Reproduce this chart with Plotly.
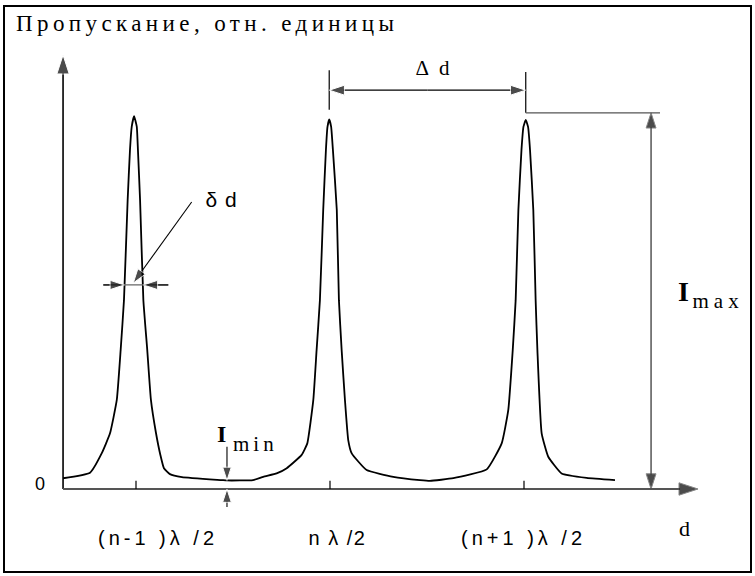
import json
import plotly.graph_objects as go

# ---------------- data ----------------
# d in units of lambda/2 (peaks at n-1, n, n+1 -> 1, 2, 3); transmission relative to peak
d_values = [0.624, 0.763, 0.823, 0.866, 0.901, 0.921, 0.938, 0.957, 0.969, 0.978, 0.990,
            1.004, 1.010, 1.021, 1.038, 1.058, 1.077, 1.103, 1.126, 1.144, 1.175, 1.237,
            1.442, 1.469, 1.603, 1.656, 1.725, 1.777, 1.854, 1.883, 1.914, 1.931, 1.948,
            1.965, 1.979, 1.987, 1.996, 2.006, 2.015, 2.035, 2.046, 2.060, 2.077, 2.094,
            2.112, 2.189, 2.326, 2.464, 2.515, 2.636, 2.808, 2.885, 2.919, 2.942, 2.957,
            2.971, 2.987, 2.997, 3.009, 3.021, 3.031, 3.048, 3.060, 3.069, 3.091, 3.125,
            3.194, 3.323, 3.469]
transmission = [0.029, 0.044, 0.096, 0.150, 0.240, 0.375, 0.509, 0.779, 0.914, 0.977, 1.005,
                0.977, 0.914, 0.779, 0.509, 0.375, 0.240, 0.151, 0.091, 0.056, 0.040, 0.032,
                0.024, 0.023, 0.024, 0.033, 0.042, 0.056, 0.092, 0.123, 0.240, 0.375, 0.509,
                0.752, 0.914, 0.976, 0.996, 0.976, 0.914, 0.752, 0.509, 0.375, 0.240, 0.132,
                0.096, 0.051, 0.033, 0.024, 0.022, 0.029, 0.053, 0.123, 0.213, 0.375, 0.509,
                0.752, 0.914, 0.976, 0.995, 0.976, 0.914, 0.752, 0.509, 0.375, 0.150, 0.087,
                0.042, 0.030, 0.024]

tick_positions = [1, 2, 3]
tick_labels = ["(n-1 )λ /2", "n λ /2", "(n+1 )λ /2"]

peak_positions = [0.990, 1.996, 3.009]
i_max_level = 1.014
i_min_position = 1.469
i_min_value = 0.023
half_width_level = 0.550
half_width_left = 0.940
half_width_right = 1.038

# ---------------- figure ----------------
X_RANGE = [0.2990, 4.1907]
Y_RANGE = [-0.2345, 1.3181]
AX_LEFT = 0.624
AX_RIGHT = 3.897
AX_TOP = 1.170

fig = go.Figure()


def line(xs, ys, color="black", width=1.5):
    fig.add_trace(go.Scatter(x=xs, y=ys, mode="lines", hoverinfo="skip",
                             line=dict(color=color, width=width), showlegend=False))


def arrow(x0, y0, x1, y1, color="black", width=1.2, size=11):
    fig.add_trace(go.Scatter(x=[x0, x1], y=[y0, y1], mode="lines+markers", hoverinfo="skip",
                             line=dict(color=color, width=width),
                             marker=dict(symbol="arrow", size=[0, size], color="black",
                                         angleref="previous"),
                             showlegend=False))


# axes
arrow(AX_LEFT, 0, AX_LEFT, AX_TOP, color="black", width=1.6, size=20)
arrow(AX_LEFT, 0, AX_RIGHT, 0, color="#555555", width=2, size=20)
for t in tick_positions:
    line([t, t], [0, 0.022], color="black", width=1.2)

# curve
fig.add_trace(go.Scatter(x=d_values, y=transmission, mode="lines", hoverinfo="skip",
                         line=dict(color="black", width=1.8, shape="spline", smoothing=0.4),
                         showlegend=False))

# delta d (half width)
line([0.8314, 1.1665], [half_width_level, half_width_level], color="#666666", width=1.2)
arrow(0.8314, half_width_level, half_width_left, half_width_level, width=1.2, size=15)
arrow(1.1665, half_width_level, half_width_right, half_width_level, width=1.2, size=15)
arrow(1.287, 0.7736, 0.986, 0.5553, width=1.1, size=15)

# Delta d (period)
line([peak_positions[1], peak_positions[1]], [1.022, 1.129], width=1.2)
line([peak_positions[2], peak_positions[2]], [i_max_level, 1.124], width=1.2)
mid = (peak_positions[1] + peak_positions[2]) / 2
arrow(mid, 1.075, peak_positions[1], 1.075, width=1.2, size=16)
arrow(mid, 1.075, peak_positions[2], 1.075, width=1.2, size=16)
line([peak_positions[2], 3.701], [i_max_level, i_max_level], color="#555555", width=1.2)

# I max
arrow(3.655, i_max_level / 2, 3.655, i_max_level, color="#555555", width=1.5, size=16)
arrow(3.655, i_max_level / 2, 3.655, 0, color="#555555", width=1.5, size=16)

# I min
arrow(i_min_position, 0.114, i_min_position, i_min_value, width=1.1, size=14)
arrow(i_min_position, -0.0485, i_min_position, 0, width=1.1, size=14)

SERIF = "Liberation Serif"
SANS = "Liberation Sans"


def px(x):
    return x / 755.0


def py(y):
    return 1 - y / 576.0


ann = []


def text(t, x, y, font, size, xanchor="center"):
    ann.append(dict(text=t, x=px(x), y=py(y), xref="paper", yref="paper",
                    xanchor=xanchor, yanchor="middle", showarrow=False,
                    font=dict(family=font, size=size, color="black")))


text("Пропускание, отн. единицы", 207, 24, SERIF, 23)
text("0", 40, 484, SANS, 18)
text("δ d", 221, 199, SANS, 21)
text("Δ d", 435, 68, SERIF, 21)
text("<b>I</b>", 683, 291, SERIF, 28)
text("max", 718, 301, SERIF, 21)
text("<b>I</b>", 221, 434, SERIF, 24)
text("min", 255, 444, SERIF, 21)
text("d", 684, 528, SERIF, 22)

label_shift = [22, 7, -1]
for t, lab, s in zip(tick_positions, tick_labels, label_shift):
    ann.append(dict(text=lab, x=t, y=0, xref="x", yref="y", yshift=-49, xshift=s,
                    xanchor="center", yanchor="middle", showarrow=False,
                    font=dict(family=SANS, size=20, color="black")))

fig.update_layout(
    width=755, height=576,
    margin=dict(l=0, r=0, t=0, b=0),
    paper_bgcolor="white", plot_bgcolor="white",
    xaxis=dict(range=X_RANGE, visible=False, fixedrange=True),
    yaxis=dict(range=Y_RANGE, visible=False, fixedrange=True),
    annotations=ann,
    shapes=[dict(type="rect", xref="paper", yref="paper",
                 x0=px(4), x1=px(751), y0=py(572), y1=py(6),
                 line=dict(color="black", width=2))],
)

spacing = {"Пропускание, отн. единицы": 4.4, "max": 5, "min": 4, "Δ d": 3, "δ d": 1,
           "(n-1 )λ /2": 4, "n λ /2": 1.5, "(n+1 )λ /2": 4}
post = """
document.body.style.margin = '0';
document.body.style.padding = '0';
document.body.style.overflow = 'hidden';
var gd = document.getElementById('{plot_id}');
var sp = """ + json.dumps(spacing, ensure_ascii=False) + """;
function applySpacing(){
  gd.querySelectorAll('text.annotation-text').forEach(function(t){
    var v = sp[t.textContent];
    if(v !== undefined){ t.style.letterSpacing = v + 'px'; }
  });
}
applySpacing();
gd.on('plotly_afterplot', applySpacing);
"""

fig.write_html("out.html", post_script=post, config={"displayModeBar": False})
